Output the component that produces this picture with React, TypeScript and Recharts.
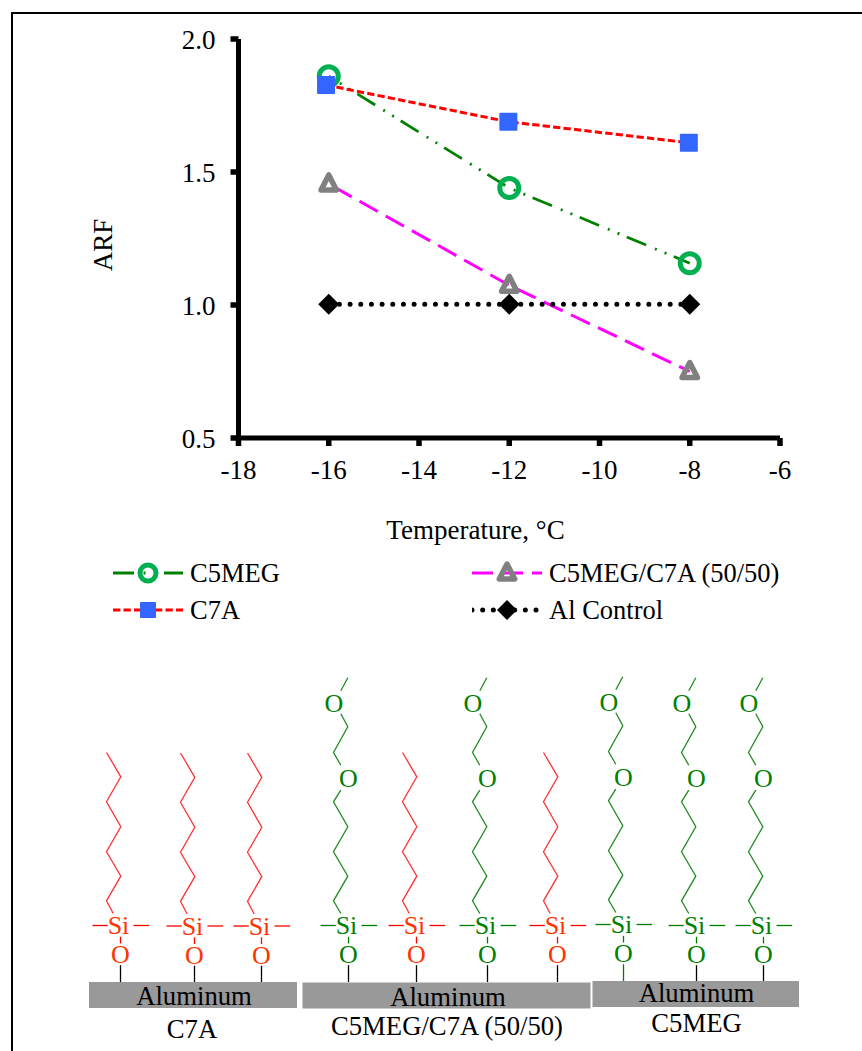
import { LineChart, Line, XAxis, YAxis, Legend, Label } from "recharts"

const temperatures = [-16, -12, -8]
const c7aTemperatures = [-16.06, -12.02, -8.02]
const c5meg = [1.86, 1.44, 1.157]
const c7a = [1.827, 1.689, 1.61]
const mix = [1.455, 1.074, 0.75]
const alControl = [1.003, 1.003, 1.003]

const xTicks = [-18, -16, -14, -12, -10, -8, -6]
const yTicks = [0.5, 1.0, 1.5, 2.0]

const chartData = temperatures.map((t, i) => ({
  t,
  c5meg: c5meg[i],
  mix: mix[i],
  al: alControl[i],
}))
const c7aData = c7aTemperatures.map((t, i) => ({ t, c7a: c7a[i] }))

const FONT = "'Liberation Serif', 'Times New Roman', serif"
const RED = "#ff0000"
const RED_TEXT = "#ff3300"
const GREEN = "#008000"

const DASH: Record<string, string> = {
  c5meg: "21 9.5 2 8.5 2 8",
  c7a: "7.3 3.2",
  mix: "21 9",
  al: "0 10.67",
}
const LINE_COLOR: Record<string, string> = {
  c5meg: "#008000",
  c7a: "#ff0000",
  mix: "#ff00ff",
  al: "#000000",
}

function marker(kind: string, cx: number, cy: number, legend = false) {
  if (kind === "c5meg") {
    return <circle cx={cx} cy={cy} r={legend ? 8 : 9.5} fill="none" stroke="#00b050" strokeWidth={5} />
  }
  if (kind === "c7a") {
    const s = legend ? 16 : 18
    return <rect x={cx - s / 2} y={cy - s / 2} width={s} height={s} rx={1} fill="#3366ff" />
  }
  if (kind === "mix") {
    // the triangle sits a little above its line end in the reference
    const my = cy - 1.5
    return (
      <path
        d={`M${cx} ${my - 7.5} L${cx + 7.7} ${my + 7.5} L${cx - 7.7} ${my + 7.5} Z`}
        fill="none"
        stroke="#808080"
        strokeWidth={5.5}
        strokeLinejoin="round"
      />
    )
  }
  const d = legend ? 10 : 10.5
  return <path d={`M${cx} ${cy - d} L${cx + d} ${cy} L${cx} ${cy + d} L${cx - d} ${cy} Z`} fill="#000" />
}

const dotFor = (kind: string) => (props: any) => (
  <g key={`${kind}-${props.index}`}>{marker(kind, props.cx, props.cy)}</g>
)

function ChartLegend({ payload }: { payload?: any[] }) {
  return (
    <div
      style={{
        display: "grid",
        gridTemplateColumns: "359px 390px",
        gridTemplateRows: "37px 37px",
        gridAutoFlow: "column",
        paddingLeft: 113,
        fontFamily: FONT,
        fontSize: 26.5,
        color: "#000",
        whiteSpace: "nowrap",
      }}
    >
      {(payload ?? []).map((entry) => {
        const kind = entry.dataKey as string
        return (
          <div key={kind} style={{ display: "flex", alignItems: "center", gap: 7 }}>
            <svg width={70} height={30}>
              <line
                x1={0}
                y1={15}
                x2={70}
                y2={15}
                stroke={LINE_COLOR[kind]}
                strokeWidth={kind === "al" ? 5 : 3}
                strokeDasharray={DASH[kind]}
                strokeLinecap={kind === "al" ? "round" : "butt"}
              />
              {marker(kind, 35, 15, true)}
            </svg>
            <span>{entry.value}</span>
          </div>
        )
      })}
    </div>
  )
}

// schematic below the chart: one entry per silane, x of the O-Al bond and y of the Si side bonds
const units = [
  { x: 120.5, y: 925.5, chain: "red", bar: 982 },
  { x: 194.5, y: 926, chain: "red", bar: 982 },
  { x: 261.5, y: 926, chain: "red", bar: 982 },
  { x: 348.5, y: 925.5, chain: "green", bar: 982 },
  { x: 416.5, y: 925.5, chain: "red", bar: 982 },
  { x: 487.5, y: 925.5, chain: "green", bar: 982 },
  { x: 557.5, y: 925.5, chain: "red", bar: 982 },
  { x: 623.5, y: 924.5, chain: "green", bar: 981, bondGreen: true },
  { x: 696.5, y: 925.5, chain: "green", bar: 981 },
  { x: 763.5, y: 925.5, chain: "green", bar: 981 },
]
const redChain = [[-7.3, -12], [-14, -24.7], [0.3, -49.3], [-14, -73.7], [0.3, -98.7], [-14, -123.7], [0.3, -148.7], [-14, -173]]
const greenChainA = [[-7.7, -12], [-15, -24.7], [-0.7, -49.3], [-15, -73.7], [-0.7, -98.7], [-15, -123.7], [-7.7, -135.3]]
const greenChainB = [[-7.7, -160.3], [-15, -173], [-0.7, -198.7], [-7.7, -211.7]]
const greenChainC = [[-7.7, -234.7], [-0.7, -247.7]]

const panels = [
  { x1: 89, x2: 297, y1: 982, y2: 1008, cx: 194, base: 1005, name: "C7A", nameX: 192, nameBase: 1037.5 },
  { x1: 302.5, x2: 590.5, y1: 982.5, y2: 1008.5, cx: 448, base: 1005.5, name: "C5MEG/C7A (50/50)", nameX: 447, nameBase: 1035 },
  { x1: 592.5, x2: 799, y1: 981, y2: 1007, cx: 696.5, base: 1001.5, name: "C5MEG", nameX: 696.5, nameBase: 1031.5 },
]

function Poly({ pts, x, y, color }: { pts: number[][]; x: number; y: number; color: string }) {
  return (
    <polyline
      points={pts.map(([dx, dy]) => `${x + dx},${y + dy}`).join(" ")}
      fill="none"
      stroke={color}
      strokeWidth={1.3}
    />
  )
}

function Schematic() {
  return (
    <svg width={862} height={1051} style={{ position: "absolute", left: 0, top: 0 }} fontFamily={FONT}>
      {panels.map((p) => (
        <g key={p.name}>
          <rect x={p.x1} y={p.y1} width={p.x2 - p.x1} height={p.y2 - p.y1} fill="#999999" />
          <text x={p.cx} y={p.base} textAnchor="middle" fontSize={26.7} fill="#000">Aluminum</text>
          <text x={p.nameX} y={p.nameBase} textAnchor="middle" fontSize={26.7} fill="#000">{p.name}</text>
        </g>
      ))}
      {units.map((u) => {
        const green = u.chain === "green"
        const line = green ? GREEN : RED
        const label = green ? GREEN : RED_TEXT
        return (
          <g key={u.x}>
            <line x1={u.x - 28} x2={u.x - 12.7} y1={u.y} y2={u.y} stroke={line} strokeWidth={1.3} />
            <line x1={u.x + 13} x2={u.x + 28.7} y1={u.y} y2={u.y} stroke={line} strokeWidth={1.3} />
            <line x1={u.x} x2={u.x} y1={u.y + 11.3} y2={u.y + 18} stroke={line} strokeWidth={1.3} />
            <line x1={u.x} x2={u.x} y1={u.y + 39.7} y2={u.bar} stroke={u.bondGreen ? GREEN : "#000"} strokeWidth={1.3} />
            <text x={u.x - 2} y={u.y + 8.7} textAnchor="middle" fontSize={26} fill={label}>Si</text>
            <text x={u.x} y={u.y + 37.5} textAnchor="middle" fontSize={26} fill={label}>O</text>
            {green ? (
              <>
                <Poly pts={greenChainA} x={u.x} y={u.y} color="#228b22" />
                <text x={u.x} y={u.y - 139} textAnchor="middle" fontSize={26} fill={GREEN}>O</text>
                <Poly pts={greenChainB} x={u.x} y={u.y} color="#228b22" />
                <text x={u.x - 14.7} y={u.y - 213.5} textAnchor="middle" fontSize={26} fill={GREEN}>O</text>
                <Poly pts={greenChainC} x={u.x} y={u.y} color="#228b22" />
              </>
            ) : (
              <Poly pts={redChain} x={u.x} y={u.y} color="#ff3333" />
            )}
          </g>
        )
      })}
    </svg>
  )
}

export default function App() {
  const tickStyle = { fontSize: 27, fontFamily: FONT, fill: "#000" }
  const axisLine = { stroke: "#000", strokeWidth: 5 }
  const tickLine = { stroke: "#000", strokeWidth: 5.5 }
  return (
    <div style={{ position: "absolute", left: 0, top: 0, width: 862, height: 1051, overflow: "hidden", background: "#fff" }}>
      <div style={{ position: "absolute", left: 11, top: 12, width: 900, height: 1100, border: "2px solid #000" }} />
      <Schematic />
      <div style={{ position: "absolute", left: 0, top: 0 }}>
        <LineChart
          width={862}
          height={640}
          data={chartData}
          margin={{ top: 39, right: 82, bottom: 92, left: 0 }}
        >
          <XAxis
            dataKey="t"
            type="number"
            domain={[-18, -6]}
            ticks={xTicks}
            interval={0}
            height={110}
            tick={tickStyle}
            tickSize={8}
            tickMargin={14}
            axisLine={axisLine}
            tickLine={tickLine}
          >
            <Label
              content={() => (
                <text x={475.5} y={539} textAnchor="middle" fontFamily={FONT} fontSize={27} fill="#000">
                  Temperature, °C
                </text>
              )}
            />
          </XAxis>
          <YAxis
            type="number"
            domain={[0.5, 2]}
            ticks={yTicks}
            interval={0}
            width={238.5}
            tick={tickStyle}
            tickSize={8}
            tickMargin={15}
            tickFormatter={(v: number) => v.toFixed(1)}
            axisLine={axisLine}
            tickLine={tickLine}
          >
            <Label
              content={() => (
                <text x={112} y={245} transform="rotate(-90 112 245)" textAnchor="middle" fontFamily={FONT} fontSize={27} fill="#000">
                  ARF
                </text>
              )}
            />
          </YAxis>
          <Legend
            layout="horizontal"
            align="center"
            verticalAlign="middle"
            itemSorter={null}
            wrapperStyle={{ left: 0, top: 554.5, width: 862 }}
            content={(props: any) => <ChartLegend payload={props.payload} />}
          />
          <Line dataKey="c5meg" name="C5MEG" stroke={LINE_COLOR.c5meg} strokeWidth={2.75} strokeDasharray={DASH.c5meg} strokeDashoffset={17.4} dot={dotFor("c5meg")} isAnimationActive={false} />
          <Line data={c7aData} dataKey="c7a" name="C7A" stroke={LINE_COLOR.c7a} strokeWidth={3} strokeDasharray={DASH.c7a} dot={dotFor("c7a")} isAnimationActive={false} />
          <Line dataKey="mix" name="C5MEG/C7A (50/50)" stroke={LINE_COLOR.mix} strokeWidth={3} strokeDasharray={DASH.mix} strokeDashoffset={24.7} dot={dotFor("mix")} isAnimationActive={false} />
          <Line dataKey="al" name="Al Control" stroke={LINE_COLOR.al} strokeWidth={5} strokeDasharray={DASH.al} strokeLinecap="round" dot={dotFor("al")} isAnimationActive={false} />
        </LineChart>
      </div>
    </div>
  )
}
